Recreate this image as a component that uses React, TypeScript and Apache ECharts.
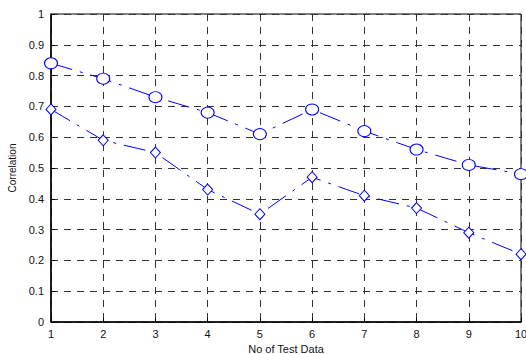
import React, { useEffect, useRef } from "react";
import * as echarts from "echarts";

const xValues = [1, 2, 3, 4, 5, 6, 7, 8, 9, 10];
const circleSeries = [0.84, 0.79, 0.73, 0.68, 0.61, 0.69, 0.62, 0.56, 0.51, 0.48];
const diamondSeries = [0.69, 0.59, 0.55, 0.43, 0.35, 0.47, 0.41, 0.37, 0.29, 0.22];
const xLabel = "No of Test Data";
const yLabel = "Correlation";

export default function App() {
  const ref = useRef<HTMLDivElement>(null);
  useEffect(() => {
    if (!ref.current) return;
    const chart = echarts.init(ref.current, null, { renderer: "svg" });
    const font = "'Liberation Sans', Arial, sans-serif";
    const lineStyle = { color: "#0000ff", width: 1, type: [22, 8, 3, 8] as any };
    chart.setOption({
      animation: false,
      backgroundColor: "#ffffff",
      grid: {
        left: 51,
        right: 5,
        top: 14,
        bottom: 32,
        show: true,
        borderColor: "#000",
        borderWidth: 1,
        backgroundColor: "#fff",
        outerBoundsMode: "none",
        containLabel: false,
      },
      xAxis: {
        type: "value",
        min: 1,
        max: 10,
        interval: 1,
        name: xLabel,
        nameLocation: "middle",
        nameGap: 17,
        nameTextStyle: { fontFamily: font, fontSize: 11, color: "#111" },
        axisLine: { show: true, lineStyle: { color: "#000", width: 1.5 } },
        axisTick: { show: true, inside: true, length: 4, lineStyle: { color: "#000" } },
        axisLabel: { fontFamily: font, fontSize: 11, color: "#111", margin: 6 },
        splitLine: { show: true, lineStyle: { color: "#333", type: [7, 6], width: 1 } },
      },
      yAxis: {
        type: "value",
        min: 0,
        max: 1,
        interval: 0.1,
        name: yLabel,
        nameLocation: "middle",
        nameGap: 32,
        nameTextStyle: { fontFamily: font, fontSize: 10, color: "#111" },
        axisLine: { show: true, lineStyle: { color: "#000", width: 1.5 } },
        axisTick: { show: true, inside: true, length: 4, lineStyle: { color: "#000" } },
        axisLabel: { fontFamily: font, fontSize: 11, color: "#111", margin: 7 },
        splitLine: { show: true, lineStyle: { color: "#333", type: [7, 6], width: 1 } },
      },
      series: [
        {
          type: "line",
          data: xValues.map((x, i) => [x, circleSeries[i]]),
          symbol: "circle",
          symbolSize: [13, 11],
          itemStyle: { color: "#fff", borderColor: "#0000ff", borderWidth: 1 },
          lineStyle,
          clip: false,
        },
        {
          type: "line",
          data: xValues.map((x, i) => [x, diamondSeries[i]]),
          symbol: "diamond",
          symbolSize: [10, 11],
          itemStyle: { color: "#fff", borderColor: "#0000ff", borderWidth: 1 },
          lineStyle,
          clip: false,
        },
      ],
    });
    return () => chart.dispose();
  }, []);
  return <div ref={ref} style={{ width: 526, height: 354, position: "absolute", left: 0, top: 0 }} />;
}
